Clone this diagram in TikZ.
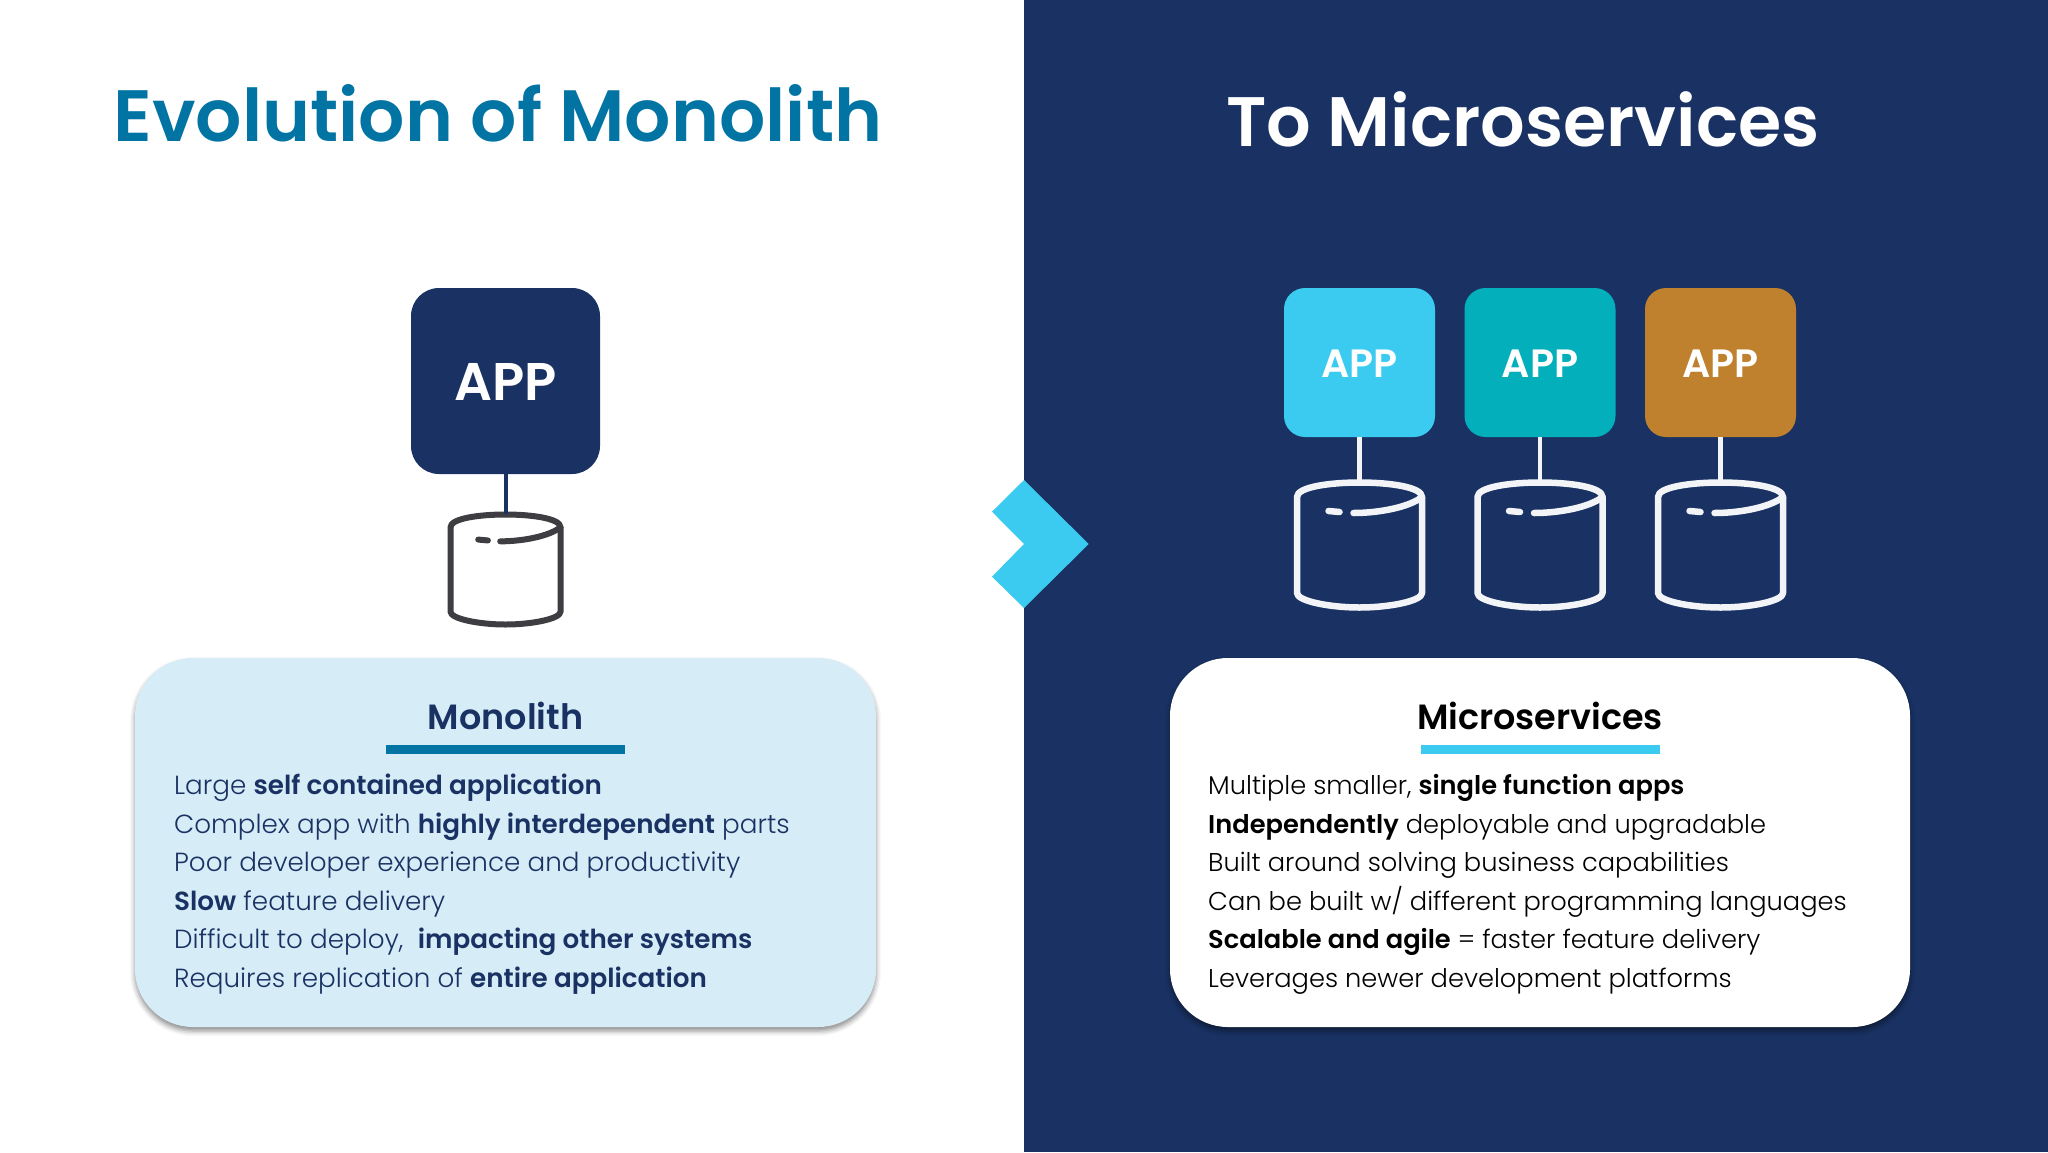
\documentclass[tikz,border=0pt]{standalone}
\usepackage{fontspec}
\setmainfont{Poppins}[UprightFont=* Light,BoldFont=* SemiBold]
\usetikzlibrary{shadows.blur}
\definecolor{navyBlue}{HTML}{193263}
\definecolor{titleBlue}{HTML}{0274A3}
\definecolor{skyBlue}{HTML}{3BCBF0}
\definecolor{tealBlue}{HTML}{02AFBA}
\definecolor{brownApp}{HTML}{C0812F}
\definecolor{paleBlue}{HTML}{D6ECF7}
\definecolor{dbGrey}{HTML}{3D3D42}
\definecolor{dbWhite}{HTML}{F2F4F7}
\tikzset{
	mainTitle/.style={anchor=base,font=\fontsize{#1}{#1}\selectfont\bfseries},
	boxTitle/.style={anchor=base,font=\fontsize{35}{35}\selectfont\bfseries},
	bodyLine/.style={anchor=base west,inner sep=0pt,font=\fontsize{#1}{30}\selectfont},
	appBox/.style={fill=#1,text=white,inner sep=0pt,minimum width=151,minimum height=149,rounded corners=21,text height=29.6pt,font=\fontsize{39.5}{40}\selectfont\bfseries},
	infoBox/.style={fill=#1,inner sep=0pt,minimum width=741,minimum height=369,rounded corners=58,
		blur shadow={shadow xshift=0pt,shadow yshift=-4pt,shadow blur radius=5pt,shadow opacity=45}},
	titleBar/.style={fill=#1,inner sep=0pt,minimum width=239,minimum height=9},
	dbSlot/.style={inner sep=0pt,minimum width=125*#1,minimum height=125*#1}
}
% name, position, scale, colour, line width
\newcommand{\drawDb}[5]{
	\node[dbSlot=#3] (#1) at (#2) {};
	\begin{scope}[shift={(#1.center)},scale=#3,draw=#4,line width=#5,line join=round,line cap=round]
		\draw (-62.5,48) -- (-62.5,-48) .. controls (-62.5,-58) and (-30,-62.5) .. (0,-62.5)
			.. controls (30,-62.5) and (62.5,-58) .. (62.5,-48) -- (62.5,48)
			.. controls (62.5,56) and (30,62.5) .. (0,62.5)
			.. controls (-30,62.5) and (-62.5,56) .. (-62.5,48) -- cycle;
		\draw (62.5,-48) .. controls (50,-38) and (20,-32) .. (-6,-32);
		\draw (-31,-34) -- (-20,-33);
	\end{scope}
}

\begin{document}
\begin{tikzpicture}[x=1pt,y=-1pt]
	\useasboundingbox (0,0) rectangle (2048,1152);
	\fill[navyBlue] (1024,0) rectangle (2048,1152);
	\fill[skyBlue] (1024,480) -- (1088.7,544) -- (1024,608) -- (992,576.7) -- (1024,544) -- (992,511.7) -- cycle;

	\node[mainTitle=72.7,text=titleBlue] (leftTitle) at (498,141) {Evolution of Monolith};
	\node[mainTitle=70,text=white] (rightTitle) at (1523,146) {To Microservices};

	% monolith side
	\node[appBox=navyBlue,minimum width=189,minimum height=186,rounded corners=28,text height=38pt,font=\fontsize{53}{53}\selectfont\bfseries] (monoApp) at (505.5,381) {APP};
	\drawDb{monoDb}{505.5,569.5}{0.88}{dbGrey}{6pt}
	\draw[navyBlue,line width=4pt] (monoApp.south) -- (monoDb.north);

	\node[infoBox=paleBlue] (monoBox) at (505.5,842.5) {};
	\node[boxTitle,text=navyBlue] (monoHead) at (505.5,729) {Monolith};
	\node[titleBar=titleBlue] (monoBar) at (505.5,749.5) {};
	\begin{scope}[text=navyBlue]
		\node[bodyLine=26.2] (mono1) at (174,794.5) {Large \textbf{self contained application}};
		\node[bodyLine=26.2] (mono2) at (174,833) {Complex app with \textbf{highly interdependent} parts};
		\node[bodyLine=26.2] (mono3) at (174,871.5) {Poor developer experience and productivity};
		\node[bodyLine=26.2] (mono4) at (174,910) {\textbf{Slow} feature delivery};
		\node[bodyLine=26.2] (mono5) at (174,948.5) {Difficult to deploy,\ \ \textbf{impacting other systems}};
		\node[bodyLine=26.2] (mono6) at (174,987) {Requires replication of \textbf{entire application}};
	\end{scope}

	% microservices side
	\node[appBox=skyBlue] (app1) at (1359.5,362.5) {APP};
	\node[appBox=tealBlue] (app2) at (1540,362.5) {APP};
	\node[appBox=brownApp] (app3) at (1720.5,362.5) {APP};
	\drawDb{db1}{1359.5,545}{1}{dbWhite}{6.5pt}
	\drawDb{db2}{1540,545}{1}{dbWhite}{6.5pt}
	\drawDb{db3}{1720.5,545}{1}{dbWhite}{6.5pt}
	\foreach \i in {1,2,3}
		\draw[dbWhite,line width=4.5pt] (app\i.south) -- (db\i.north);

	\node[infoBox=white,minimum width=740] (microBox) at (1540,842.5) {};
	\node[boxTitle] (microHead) at (1540,729) {Microservices};
	\node[titleBar=skyBlue] (microBar) at (1540,749.5) {};
	\node[bodyLine=25.7] (micro1) at (1208,794.5) {Multiple smaller, \textbf{single function apps}};
	\node[bodyLine=25.7] (micro2) at (1208,833) {\textbf{Independently} deployable and upgradable};
	\node[bodyLine=25.7] (micro3) at (1208,871.5) {Built around solving business capabilities};
	\node[bodyLine=25.7] (micro4) at (1208,910) {Can be built w/ different programming languages};
	\node[bodyLine=25.7] (micro5) at (1208,948.5) {\textbf{Scalable and agile} = faster feature delivery};
	\node[bodyLine=25.7] (micro6) at (1208,987) {Leverages newer development platforms};
\end{tikzpicture}
\end{document}
